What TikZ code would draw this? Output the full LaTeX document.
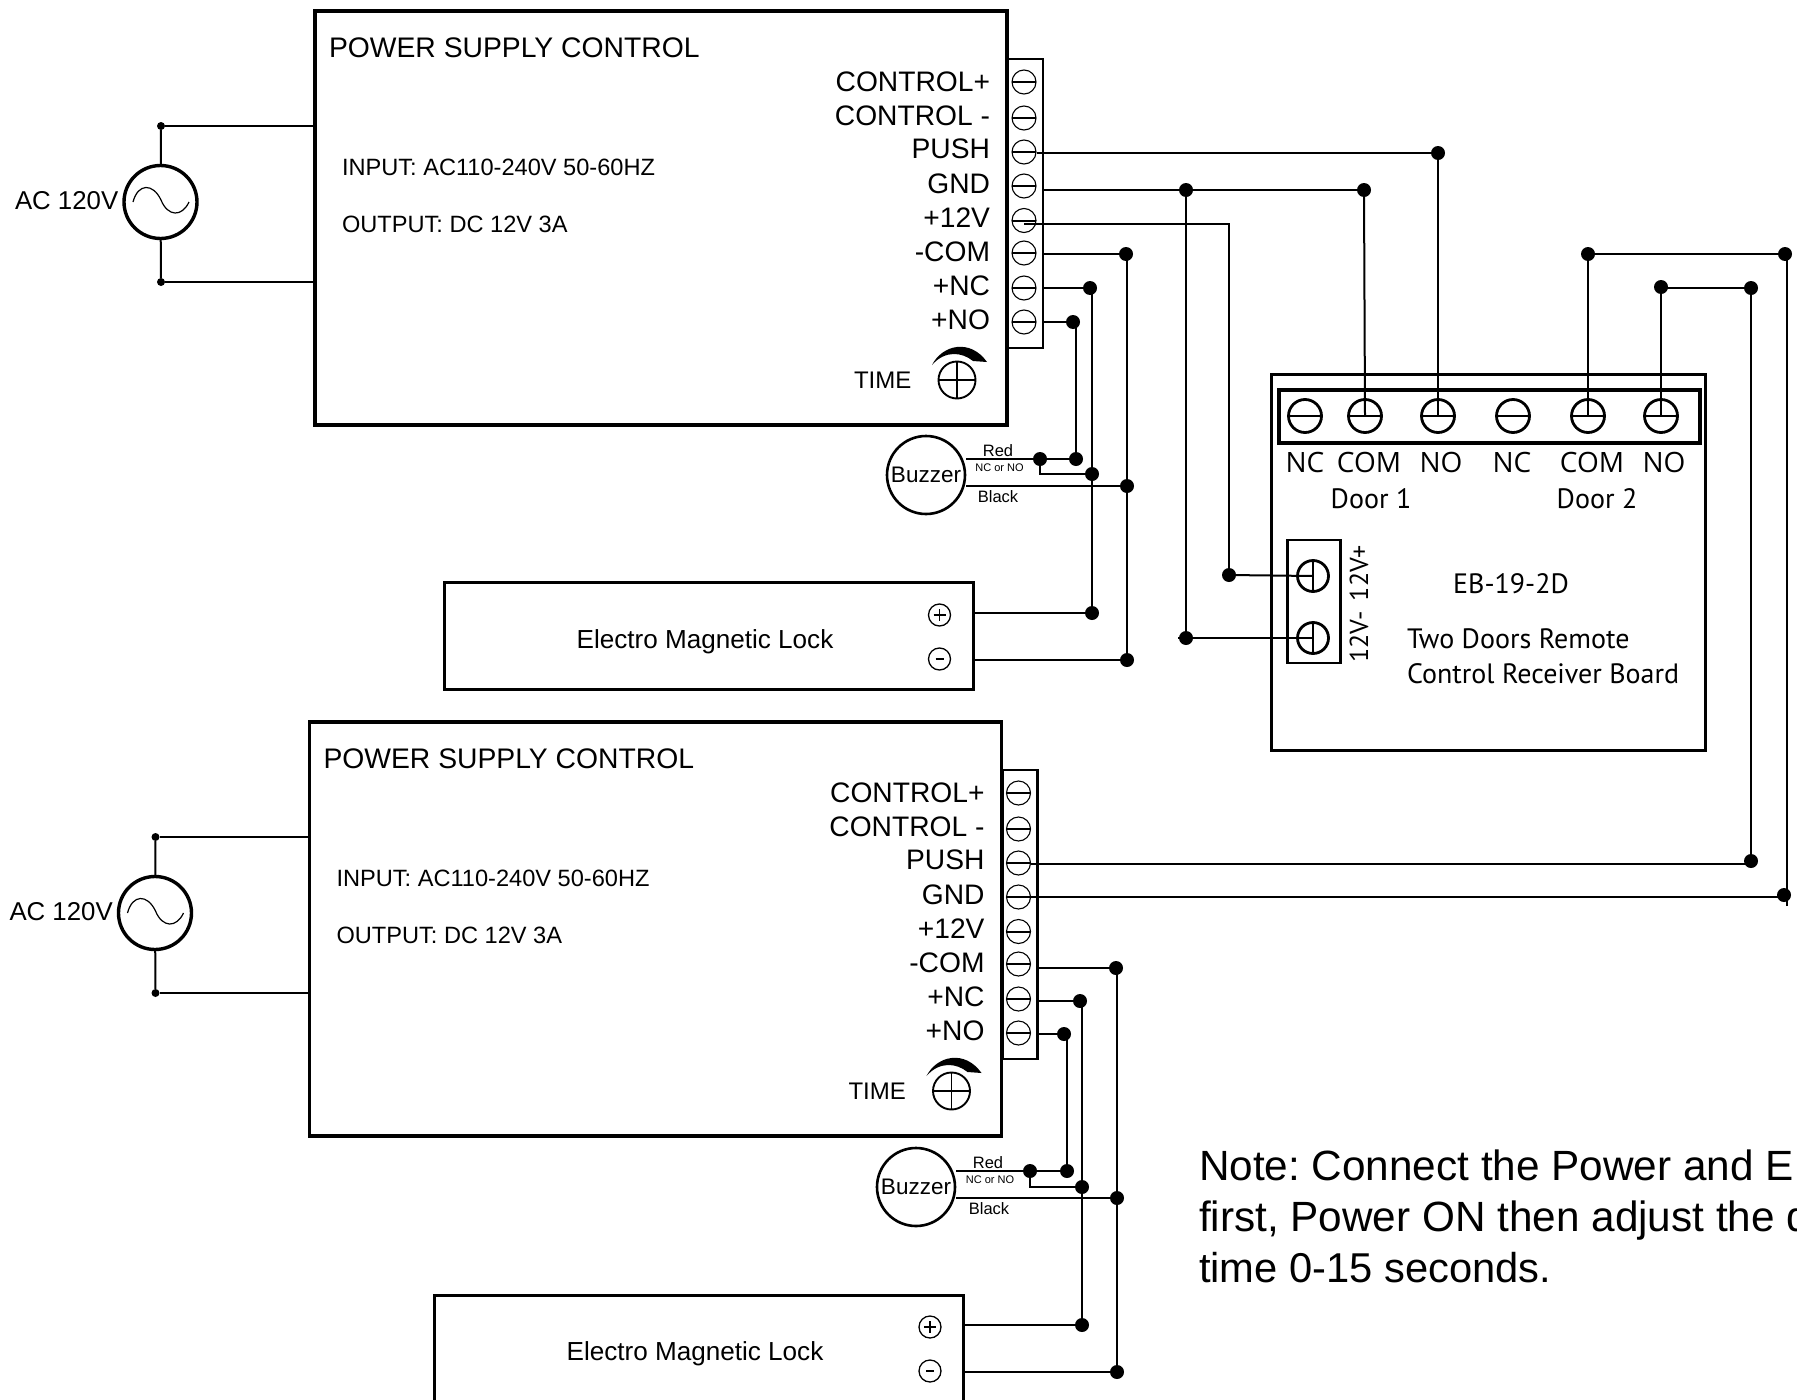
\documentclass[tikz,border=0pt]{standalone}
\usepackage{fontspec}
\setmainfont{Liberation Sans}
\newfontfamily\brdfont{PT Sans}
\newfontfamily\capfont{Open Sans}
\usetikzlibrary{calc}
\frenchspacing
\newcommand{\fs}[1]{\fontsize{#1}{#1}\selectfont}
\tikzset{
  x=1pt,y=-1pt,
  boxline/.style={draw=black,line width=3.6pt,line join=miter},
  wire/.style={draw=black,line width=2pt},
  hdot/.style={circle,fill=black,inner sep=0pt,minimum size=14pt},
  sdot/.style={circle,fill=black,inner sep=0pt,minimum size=8pt},
  screwslot/.style={circle,draw=black,line width=1.1pt,inner sep=0pt,minimum size=24pt,
    path picture={\draw[line width=2pt] (path picture bounding box.west) -- (path picture bounding box.east);}},
  boardscrew/.style={circle,draw=black,line width=2.8pt,inner sep=0pt,minimum size=33pt,
    path picture={\draw[line width=1.2pt] (path picture bounding box.west) -- (path picture bounding box.east);}},
  sidescrew/.style={circle,draw=black,line width=2.8pt,inner sep=0pt,minimum size=31pt,
    path picture={\draw[line width=1.2pt] (path picture bounding box.north) -- (path picture bounding box.south);}},
  knob/.style={circle,draw=black,line width=1.9pt,inner sep=0pt,minimum size=37pt,
    path picture={\draw[line width=1.3pt] (path picture bounding box.west) -- (path picture bounding box.east)
      (path picture bounding box.north) -- (path picture bounding box.south);}},
  pluscirc/.style={circle,draw=black,line width=1.3pt,inner sep=0pt,minimum size=22pt,
    path picture={\draw[line width=1.6pt] ($(path picture bounding box.center)+(-6,0)$) -- ($(path picture bounding box.center)+(6,0)$)
      ($(path picture bounding box.center)+(0,-6)$) -- ($(path picture bounding box.center)+(0,6)$);}},
  minuscirc/.style={circle,draw=black,line width=1.3pt,inner sep=0pt,minimum size=22pt,
    path picture={\draw[line width=1.8pt] ($(path picture bounding box.center)+(-4,0)$) -- ($(path picture bounding box.center)+(4,0)$);}},
  buzzer/.style={circle,draw=black,line width=2.6pt,inner sep=0pt,minimum size=78pt,font=\fs{22.5}},
  source/.style={circle,draw=black,line width=3.4pt,inner sep=0pt,minimum size=73pt},
  txt/.style={inner sep=0pt,outer sep=0pt},
  termlabel/.style={txt,anchor=base east,font=\fs{28.2}},
  brdlabel/.style={txt,anchor=base,font=\brdfont\fs{28}},
  caplabel/.style={txt,anchor=base,font=\capfont\fs{28}},
}
\newcommand{\psublock}[1]{%
  \node[boxline,minimum width=692pt,minimum height=414pt,inner sep=0pt,anchor=north west] (#1box) at (313,9) {};
  \node[draw=black,line width=2.6pt,minimum width=35pt,minimum height=289pt,inner sep=0pt,anchor=north west] (#1strip) at (1006.5,57.5) {};
  \node[screwslot] (#1s1) at (1024,82) {};
  \node[screwslot] (#1s2) at (1024,118) {};
  \node[screwslot] (#1s3) at (1024,152) {};
  \node[screwslot] (#1s4) at (1024,186) {};
  \node[screwslot] (#1s5) at (1024,220.5) {};
  \node[screwslot] (#1s6) at (1024,253) {};
  \node[screwslot] (#1s7) at (1024,288) {};
  \node[screwslot] (#1s8) at (1024,322) {};
  \node[termlabel] (#1l1) at (990,91) {CONTROL+};
  \node[termlabel] (#1l2) at (990,125) {CONTROL -};
  \node[termlabel] (#1l3) at (990,158.5) {PUSH};
  \node[termlabel] (#1l4) at (990,193) {GND};
  \node[termlabel] (#1l5) at (990,227) {+12V};
  \node[termlabel] (#1l6) at (990,261.5) {-COM};
  \node[termlabel] (#1l7) at (990,295.5) {+NC};
  \node[termlabel] (#1l8) at (990,329) {+NO};
  \node[txt,anchor=base west,font=\fs{28.3}] (#1title) at (329,57) {POWER SUPPLY CONTROL};
  \node[txt,anchor=base west,font=\fs{23.6}] (#1in) at (342,175) {INPUT: AC110-240V 50-60HZ};
  \node[txt,anchor=base west,font=\fs{23.6}] (#1out) at (342,232) {OUTPUT: DC 12V 3A};
  \node[txt,anchor=base west,font=\fs{24}] (#1time) at (854,388) {TIME};
  \node[knob] (#1knob) at (957,380) {};
  \fill[black] (932,365) .. controls (942,345) and (970,338) .. (987,362) -- (973,361)
     .. controls (962,352) and (945,350) .. cycle;
  \node[source] (#1ac) at (160.5,202) {};
  \node[sdot] (#1actop) at (161,126) {};
  \node[sdot] (#1acbot) at (161,282) {};
  \node[txt,anchor=base west,font=\fs{25.8}] (#1aclbl) at (15,209.5) {AC 120V};
  \draw[line width=1.2pt] (133,202) .. controls (138,183) and (153,183) .. (161,200)
     .. controls (168,217) and (182,217) .. (189,202);
  \draw[wire] (#1actop) -- (#1ac);
  \draw[wire] (#1acbot) -- (#1ac);
  \draw[wire] (#1actop) -- (#1actop -| #1box.west);
  \draw[wire] (#1acbot) -- (#1acbot -| #1box.west);
}
\begin{document}
\begin{tikzpicture}
\useasboundingbox (0,0) rectangle (1797,1400);
\clip (0,0) rectangle (1797,1400);

\begin{scope}
  \psublock{a}
\end{scope}
\begin{scope}[shift={(-5.5,711)}]
  \psublock{b}
\end{scope}

% receiver board
\node[boxline,line width=3pt,minimum width=434pt,minimum height=376pt,inner sep=0pt,anchor=north west] (board) at (1270,372.5) {};
\node[boxline,minimum width=421pt,minimum height=53pt,inner sep=0pt,anchor=north west] (termstrip) at (1277,388) {};
\node[boardscrew] (r1) at (1305,416) {};
\node[boardscrew] (r2) at (1365,416) {};
\node[boardscrew] (r3) at (1438,416) {};
\node[boardscrew] (r4) at (1513,416) {};
\node[boardscrew] (r5) at (1588,416) {};
\node[boardscrew] (r6) at (1661,416) {};
\node[caplabel] (rl1) at (1305,472) {NC};
\node[caplabel] (rl2) at (1369,472) {COM};
\node[caplabel] (rl3) at (1441,472) {NO};
\node[caplabel] (rl4) at (1512,472) {NC};
\node[caplabel] (rl5) at (1592,472) {COM};
\node[caplabel] (rl6) at (1664,472) {NO};
\node[brdlabel] (door1) at (1371,508) {Door 1};
\node[brdlabel] (door2) at (1597,508) {Door 2};
\node[brdlabel] (model) at (1511,593) {EB-19-2D};
\node[brdlabel,anchor=base west] (desc1) at (1407,648) {Two Doors Remote};
\node[brdlabel,anchor=base west] (desc2) at (1407,683) {Control Receiver Board};
\node[boxline,line width=2.8pt,minimum width=53pt,minimum height=123pt,inner sep=0pt,anchor=north west] (pstrip) at (1286,538.5) {};
\node[sidescrew] (p1) at (1313,576) {};
\node[sidescrew] (p2) at (1313,638) {};
\node[txt,rotate=90,font=\brdfont\fs{26}] (plbl1) at (1359,573) {12V+};
\node[txt,rotate=90,font=\brdfont\fs{26}] (plbl2) at (1359,637) {12V-};

% top group wiring
\node[hdot] (da1) at (1438,153) {};
\node[hdot] (da2) at (1186,190) {};
\node[hdot] (da3) at (1364,190) {};
\node[hdot] (da4) at (1186,638) {};
\node[hdot] (da5) at (1229,575) {};
\coordinate (ca6) at (1229,224);
\coordinate (ca7) at (1178,638);
\draw[wire] (as3.east |- da1) -- (da1);
\draw[wire] (da1) -- (r3.center);
\draw[wire] (astrip.east |- da2) -- (da3);
\draw[wire] (da3) -- (r2.center);
\draw[wire] (da2) -- (da4);
\draw[wire] (ca7) -- (p2.center);
\draw[wire] (as5.center |- ca6) -- (ca6) -- (da5);
\draw[wire] (da5) -- (p1.center);

\node[hdot] (ka1) at (1126,254) {};
\node[hdot] (ka2) at (1090,288) {};
\node[hdot] (ka3) at (1073,322) {};
\node[hdot] (ka4) at (1076,459) {};
\node[hdot] (ka5) at (1040,459) {};
\node[hdot] (ka6) at (1092,474) {};
\node[hdot] (ka7) at (1127,486) {};
\node[hdot] (ka8) at (1092,613) {};
\node[hdot] (ka9) at (1127,660) {};
\node[buzzer] (bza) at (926,475) {Buzzer};
\node[txt,anchor=base,font=\fs{16.5}] (rda) at (998,456) {Red};
\node[txt,anchor=base,font=\fs{11}] (nna) at (999.5,471) {NC or NO};
\node[txt,anchor=base,font=\fs{16.5}] (bka) at (998,502) {Black};
\draw[wire] (astrip.east |- ka1) -- (ka1);
\draw[wire] (astrip.east |- ka2) -- (ka2);
\draw[wire] (astrip.east |- ka3) -- (ka3);
\draw[wire] (ka1 -| ka7) -- (ka9);
\draw[wire] (ka2 -| ka8) -- (ka8);
\draw[wire] (ka3 -| ka4) -- (ka4);
\draw[wire,line width=1.6pt] (bza.east |- ka5) -- (ka5) -- (ka4);
\draw[wire,line width=1.6pt] (ka5) |- (ka6);
\draw[wire,line width=1.6pt] (bza.east |- ka7) -- (ka7);

\node[boxline,line width=3.2pt,minimum width=529pt,minimum height=107pt,inner sep=0pt,anchor=north west] (locka) at (443,581) {};
\node[txt,anchor=base,font=\fs{26.1}] (locktxta) at (705,648) {Electro Magnetic Lock};
\node[pluscirc] (pa) at (939.5,615) {};
\node[minuscirc] (ma) at (939.5,659) {};
\draw[wire] (locka.east |- ka8) -- (ka8);
\draw[wire] (locka.east |- ka9) -- (ka9);

% bottom group wiring
\node[hdot] (db1) at (1751,861) {};
\node[hdot] (db2) at (1784,895) {};
\node[hdot] (db3) at (1751,288) {};
\node[hdot] (db4) at (1661,287) {};
\node[hdot] (db5) at (1785,254) {};
\node[hdot] (db6) at (1588,254) {};
\coordinate (cb7) at (1787,906);
\coordinate (cb8) at (1787,254);
\coordinate (cb9) at (1751,864);
\coordinate (cb10) at (1784,897);
\draw[wire] (bs3.east |- cb9) -- (cb9);
\draw[wire] (bs4.center |- cb10) -- (cb10);
\draw[wire] (db1) -- (db3) -- (db3 -| db4);
\draw[wire] (db4) -- (r6.center);
\draw[wire] (cb7) -- (cb8);
\draw[wire] (db5) -- (db6) -- (r5.center);

\node[hdot] (kb1) at (1116,968) {};
\node[hdot] (kb2) at (1080,1001) {};
\node[hdot] (kb3) at (1064,1034) {};
\node[hdot] (kb4) at (1067,1171) {};
\node[hdot] (kb5) at (1030,1171) {};
\node[hdot] (kb6) at (1082,1187) {};
\node[hdot] (kb7) at (1117,1198) {};
\node[hdot] (kb8) at (1082,1325) {};
\node[hdot] (kb9) at (1117,1372) {};
\node[buzzer] (bzb) at (916,1187) {Buzzer};
\node[txt,anchor=base,font=\fs{16.5}] (rdb) at (988,1168) {Red};
\node[txt,anchor=base,font=\fs{11}] (nnb) at (990,1183) {NC or NO};
\node[txt,anchor=base,font=\fs{16.5}] (bkb) at (989,1214) {Black};
\draw[wire] (bstrip.east |- kb1) -- (kb1);
\draw[wire] (bstrip.east |- kb2) -- (kb2);
\draw[wire] (bstrip.east |- kb3) -- (kb3);
\draw[wire] (kb1 -| kb7) -- (kb9);
\draw[wire] (kb2 -| kb8) -- (kb8);
\draw[wire] (kb3 -| kb4) -- (kb4);
\draw[wire,line width=1.6pt] (bzb.east |- kb5) -- (kb5) -- (kb4);
\draw[wire,line width=1.6pt] (kb5) |- (kb6);
\draw[wire,line width=1.6pt] (bzb.east |- kb7) -- (kb7);

\node[boxline,line width=3pt,minimum width=529pt,minimum height=130pt,inner sep=0pt,anchor=north west] (lockb) at (433,1293.5) {};
\node[txt,anchor=base,font=\fs{26.1}] (locktxtb) at (695,1360) {Electro Magnetic Lock};
\node[pluscirc] (pb) at (930,1327) {};
\node[minuscirc] (mb) at (930,1371) {};
\draw[wire] (lockb.east |- kb8) -- (kb8);
\draw[wire] (lockb.east |- kb9) -- (kb9);

% note
\node[txt,anchor=base west,font=\fs{42.3}] (n1) at (1199,1180) {Note: Connect the Power and E};
\node[txt,anchor=base west,font=\fs{42.3}] (n2) at (1199,1231) {first, Power ON then adjust the d};
\node[txt,anchor=base west,font=\fs{41.7}] (n3) at (1199,1282) {time 0-15 seconds.};
\end{tikzpicture}
\end{document}
